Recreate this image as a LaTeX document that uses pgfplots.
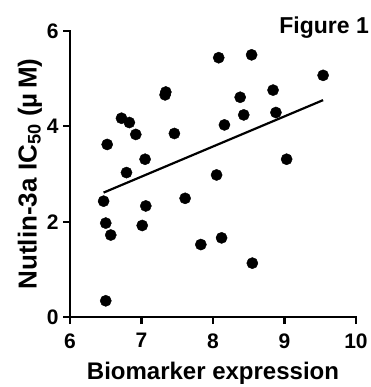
\documentclass[border=0pt]{standalone}
\usepackage{pgfplots}
\pgfplotsset{compat=1.18}
\usepackage{fontspec}
\setmainfont{Liberation Sans}
\begin{document}
\begin{tikzpicture}
\useasboundingbox (0,0) rectangle (371bp,387bp);
\begin{axis}[
  at={(70bp,70bp)}, anchor=south west,
  scale only axis, width=286bp, height=286bp,
  xmin=6, xmax=10, ymin=0, ymax=6,
  axis x line=bottom, axis y line=left,
  axis line style={-, line width=2.8bp, line cap=rect},
  xtick={6,7,8,9,10}, ytick={0,2,4,6},
  tick align=outside, major tick length=7bp,
  tick style={line width=2.2bp, black},
  /pgf/number format/assume math mode=true,
  ticklabel style={font=\fontsize{21bp}{25bp}\selectfont\bfseries},
  xticklabel style={yshift=-6bp},
  yticklabel style={xshift=-1bp},
  xlabel={Biomarker expression},
  ylabel={Nutlin-3a IC\textsubscript{50} (\textmu\,M)},
  xlabel style={font=\fontsize{24bp}{28bp}\selectfont\bfseries, yshift=-7bp},
  ylabel style={font=\fontsize{26bp}{30bp}\selectfont\bfseries, yshift=-2bp},
  clip=false,
]
\addplot[only marks, mark=*, mark size=5.6bp, black] coordinates {
(6.52,3.62) (6.72,4.17) (6.83,4.08) (6.92,3.83) (7.05,3.31) (6.79,3.03)
(6.47,2.43) (6.50,1.97) (6.57,1.72) (6.50,0.34) (7.01,1.92) (7.06,2.33)
(7.33,4.66) (7.34,4.72) (7.46,3.85) (7.61,2.49) (7.83,1.52) (8.05,2.98)
(8.12,1.66) (8.08,5.44) (8.16,4.03) (8.38,4.61) (8.43,4.24) (8.54,5.50)
(8.55,1.13) (8.84,4.76) (8.88,4.29) (9.03,3.31) (9.54,5.07)
};
\addplot[black, line width=2.2bp] coordinates {(6.47,2.61) (9.54,4.55)};
\end{axis}
\node[anchor=base east, font=\fontsize{23bp}{27bp}\selectfont\bfseries, inner sep=0pt] at (369bp,353bp) {Figure 1};
\end{tikzpicture}
\end{document}
